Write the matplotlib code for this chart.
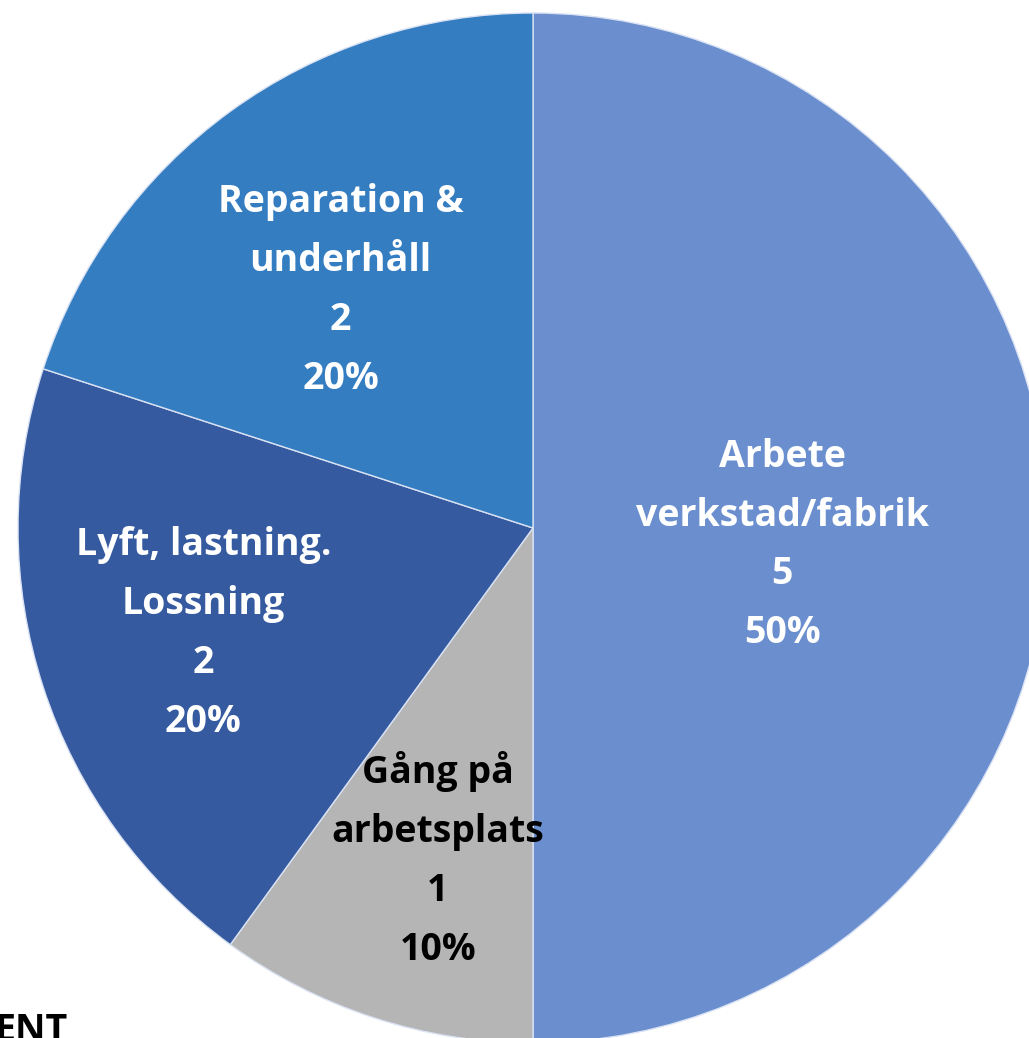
import matplotlib
matplotlib.use("Agg")
import matplotlib.pyplot as plt
import numpy as np

# Slices, clockwise from 12 o'clock
categories = ["Arbete\nverkstad/fabrik", "Gång på\narbetsplats", "Lyft, lastning.\nLossning", "Reparation &\nunderhåll"]
counts = [5, 1, 2, 2]
colors = ["#6A8ECE", "#B5B5B5", "#355AA0", "#347DC1"]
text_colors = ["white", "black", "white", "white"]
# label placement: fraction of radius, and angle shift from wedge middle (deg)
label_radius = [0.485, 0.67, 0.672, 0.594]
label_shift = [-3.9, 2.0, -0.3, 3.0]

W, H = 1029, 1038
fig = plt.figure(figsize=(W / 100, H / 100), dpi=100)
ax = fig.add_axes([0, 0, 1, 1])

cx, cy, r = 533, H - 528, 515
wedges, _ = ax.pie(counts, colors=colors, startangle=90, counterclock=False,
                   center=(cx, cy), radius=r, frame=True,
                   wedgeprops=dict(edgecolor="#D9E2F3", linewidth=1.0))

total = sum(counts)
for w, cat, n, tc, lr, sh in zip(wedges, categories, counts, text_colors, label_radius, label_shift):
    mid = np.deg2rad((w.theta1 + w.theta2) / 2 + sh)
    x = cx + lr * r * np.cos(mid)
    y = cy + lr * r * np.sin(mid)
    ax.text(x, y, f"{cat}\n{n}\n{n / total:.0%}", ha="center", va="center",
            color=tc, fontsize=27, fontweight="bold", family="Open Sans", linespacing=1.72)

# cut-off title at the bottom edge
ax.text(68, 26, "ENT", ha="right", va="top", fontsize=27, fontweight="bold",
        family="Open Sans", color="black")

ax.set_xlim(0, W)
ax.set_ylim(0, H)
ax.axis("off")
fig.savefig("out.png", dpi=100)
